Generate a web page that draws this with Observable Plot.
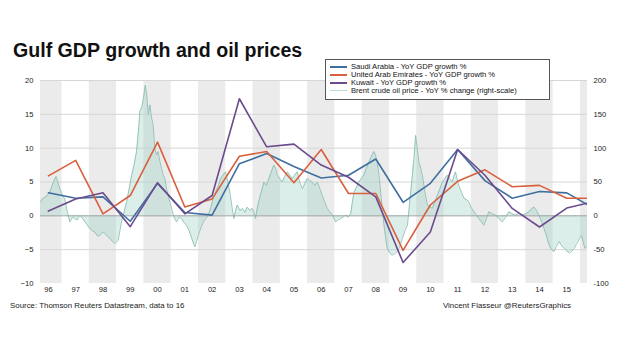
<!DOCTYPE html>
<html><head><meta charset="utf-8">
<script src="https://cdn.jsdelivr.net/npm/d3@7"></script>
<script src="https://cdn.jsdelivr.net/npm/@observablehq/plot@0.6"></script>
<style>
body{margin:0;background:#fff;font-family:"Liberation Sans",Arial,sans-serif;}
#wrap{position:relative;width:620px;height:355px;overflow:hidden;background:#fff}
#chart{position:absolute;left:0;top:0}
.t{position:absolute;white-space:nowrap;line-height:1;color:#111}
#title{left:13px;top:40.5px;font-size:19.6px;font-weight:bold;color:#111}
#source{left:10px;top:302px;font-size:7.9px;color:#222}
#credit{left:443px;top:302px;font-size:7.9px;color:#222}
#legend{position:absolute;left:325px;top:59px;width:223px;height:36px;border:1px solid #555;background:#fff;padding-top:3px;box-sizing:content-box}
.row{display:flex;align-items:center;height:7.9px;font-size:7.6px;line-height:7.9px;color:#111;white-space:nowrap}
.sw{width:17px;height:1.6px;margin-left:4px;margin-right:4px}
</style></head>
<body>
<div id="wrap">
  <div id="chart"></div>
  <div class="t" id="title">Gulf GDP growth and oil prices</div>
  <div id="legend"></div>
  <div class="t" id="source">Source: Thomson Reuters Datastream, data to 16</div>
  <div class="t" id="credit">Vincent Flasseur @ReutersGraphics</div>
</div>
<script>
// ---- data ----
const years = [1996,1997,1998,1999,2000,2001,2002,2003,2004,2005,2006,2007,2008,2009,2010,2011,2012,2013,2014,2015,2016];
const saudi  = [3.4,2.6,2.8,-0.8,4.8,0.5,0.1,7.7,9.2,7.3,5.6,6.0,8.4,2.0,4.8,9.8,5.2,2.6,3.6,3.4,1.1];
const uae    = [5.9,8.2,0.3,3.0,10.9,1.3,2.5,8.8,9.5,4.9,9.8,3.3,3.3,-5.1,1.6,5.1,6.8,4.3,4.5,2.6,2.6];
const kuwait = [0.7,2.5,3.4,-1.6,4.9,0.3,3.0,17.3,10.2,10.6,7.5,5.7,2.8,-6.9,-2.4,9.8,6.0,1.1,-1.65,1.15,2.1];

// Brent crude YoY % change (right scale)
const oilDates = [1996.21,1996.31,1996.45,1996.55,1996.68,1996.78,1996.92,1997.02,1997.10,1997.2,1997.29,1997.38,1997.47,1997.56,1997.65,1997.75,1997.84,1997.93,1998.02,1998.11,1998.20,1998.30,1998.39,1998.48,1998.57,1998.66,1998.75,1998.85,1998.94,1999.06,1999.12,1999.18,1999.27,1999.37,1999.46,1999.55,1999.64,1999.73,1999.80,1999.85,1999.92,1999.98,2000.05,2000.10,2000.16,2000.22,2000.28,2000.34,2000.40,2000.46,2000.52,2000.59,2000.65,2000.71,2000.77,2000.83,2000.89,2000.95,2001.02,2001.08,2001.14,2001.20,2001.29,2001.38,2001.47,2001.56,2001.66,2001.75,2001.81,2001.87,2001.93,2001.99,2002.09,2002.18,2002.27,2002.36,2002.45,2002.54,2002.63,2002.73,2002.81,2002.90,2002.99,2003.08,2003.17,2003.24,2003.30,2003.36,2003.42,2003.52,2003.61,2003.70,2003.79,2003.88,2003.97,2004.04,2004.09,2004.15,2004.21,2004.30,2004.40,2004.49,2004.58,2004.67,2004.76,2004.83,2004.89,2004.98,2005.07,2005.16,2005.26,2005.35,2005.44,2005.53,2005.62,2005.71,2005.81,2005.90,2005.99,2006.08,2006.17,2006.26,2006.36,2006.45,2006.54,2006.63,2006.72,2006.81,2006.91,2006.97,2007.03,2007.12,2007.21,2007.30,2007.39,2007.48,2007.58,2007.64,2007.70,2007.79,2007.88,2007.97,2008.06,2008.15,2008.25,2008.34,2008.43,2008.49,2008.55,2008.62,2008.68,2008.74,2008.80,2008.86,2008.92,2009.01,2009.10,2009.19,2009.29,2009.38,2009.48,2009.57,2009.66,2009.72,2009.78,2009.84,2009.90,2009.96,2010.02,2010.08,2010.15,2010.21,2010.30,2010.39,2010.48,2010.57,2010.66,2010.75,2010.85,2010.94,2011.03,2011.12,2011.21,2011.30,2011.36,2011.42,2011.48,2011.54,2011.64,2011.73,2011.82,2011.91,2012.00,2012.10,2012.19,2012.28,2012.37,2012.46,2012.55,2012.64,2012.77,2012.89,2013.01,2013.14,2013.26,2013.38,2013.50,2013.63,2013.75,2013.87,2013.99,2014.11,2014.20,2014.30,2014.39,2014.48,2014.57,2014.67,2014.76,2014.85,2014.94,2015.03,2015.12,2015.22,2015.31,2015.40,2015.50,2015.60,2015.69,2015.78,2015.85,2015.91,2015.97,2016.04,2016.10,2016.16,2016.26];
const oilValues = [21,26,30,35,50,58,40,30,25,5,-9,-2,-4,-6,1,-4,-9,-14,-19,-22,-24,-30,-29,-24,-26,-30,-33,-38,-41,-36,-22,-9,5,21,40,60,75,95,125,154,160,173,193,180,150,164,145,134,100,90,95,80,70,60,55,40,30,21,10,1,-5,-9,-2,-4,-10,-14,-22,-33,-40,-46,-38,-29,-18,-9,-4,1,12,26,35,45,55,60,65,50,30,10,-4,8,16,8,11,5,13,8,11,5,-4,10,21,35,50,45,55,65,75,70,60,55,50,58,65,60,55,60,65,50,40,48,55,52,50,45,50,40,30,20,11,6,1,-4,-9,-6,-4,-2,1,-2,3,20,35,42,50,55,60,70,80,88,95,90,80,60,35,10,-14,-32,-48,-55,-58,-56,-53,-45,-33,-22,-14,10,35,60,85,119,100,80,70,60,35,16,14,11,20,30,40,50,55,60,55,50,58,65,55,45,35,26,24,21,12,6,1,-4,-9,-14,-5,6,3,1,-4,-9,-2,6,3,1,4,1,3,6,10,13,8,1,-8,-19,-30,-43,-50,-53,-45,-38,-44,-48,-52,-55,-52,-48,-42,-38,-33,-29,-38,-48,-45];

const leftTicks = [-10,-5,0,5,10,15,20];
const xTickYears = [1996,1997,1998,1999,2000,2001,2002,2003,2004,2005,2006,2007,2008,2009,2010,2011,2012,2013,2014,2015];
const bandYears = [1996,1998,2000,2002,2004,2006,2008,2010,2012,2014,2016];

const seriesNames = ["Saudi Arabia - YoY GDP growth %","United Arab Emirates - YoY GDP growth %","Kuwait - YoY GDP growth %"];
const seriesColors = ["#3f6fa0","#d8603e","#6c4b8c"];
const oilName = "Brent crude oil price - YoY % change (right-scale)";

// ---- build tables ----
const gdp = [];
[saudi, uae, kuwait].forEach((arr, s) => arr.forEach((v, i) => gdp.push({series: seriesNames[s], t: years[i] + 0.5, v})));
const oil = oilDates.map((t, i) => ({t, v: oilValues[i]}));

const chart = Plot.plot({
  width: 620, height: 300,
  marginTop: 80, marginBottom: 17, marginLeft: 40, marginRight: 33,
  style: {fontFamily: "'Liberation Sans', Arial, sans-serif", fontSize: "7.6px", color: "#222", background: "transparent"},
  x: {type: "linear", domain: [1996.21, 2016.26]},
  y: {domain: [-10, 20]},
  color: {domain: seriesNames, range: seriesColors},
  marks: [
    Plot.rect(bandYears, {x1: d => d, x2: d => d + 1, y1: -10, y2: 20, fill: "#ebebeb", clip: true}),
    Plot.ruleY(leftTicks.filter(d => d !== 0 && d !== -10), {stroke: "#d6d6d6", strokeWidth: 1}),
    Plot.areaY(oil, {x: "t", y: d => d.v / 10, fill: "#a3d3c8", fillOpacity: 0.38, clip: true}),
    Plot.lineY(oil, {x: "t", y: d => d.v / 10, stroke: "#8cc0b4", strokeWidth: 0.9, clip: true}),
    Plot.ruleY([0], {stroke: "#9aa3a1", strokeWidth: 1}),
    Plot.line(gdp, {x: "t", y: "v", z: "series", stroke: "series", strokeWidth: 1.6, clip: true}),
    Plot.axisY({anchor: "left", ticks: leftTicks, tickSize: 0, tickPadding: 7, label: null}),
    Plot.axisY({anchor: "right", ticks: leftTicks, tickSize: 0, tickPadding: 6, tickFormat: d => String(d * 10), label: null}),
    Plot.axisX({ticks: xTickYears.map(y => y + 0.5), tickSize: 0, tickPadding: 3, tickFormat: d => String(Math.floor(d)).slice(2), label: null})
  ]
});
document.getElementById("chart").appendChild(chart);

// legend
const lg = document.getElementById("legend");
seriesNames.concat([oilName]).forEach((name, i) => {
  const row = document.createElement("div");
  row.className = "row";
  const sw = document.createElement("div");
  sw.className = "sw";
  sw.style.background = i < 3 ? seriesColors[i] : "#b9ddd5";
  row.appendChild(sw);
  const tx = document.createElement("span");
  tx.textContent = name;
  row.appendChild(tx);
  lg.appendChild(row);
});
</script>
</body></html>
